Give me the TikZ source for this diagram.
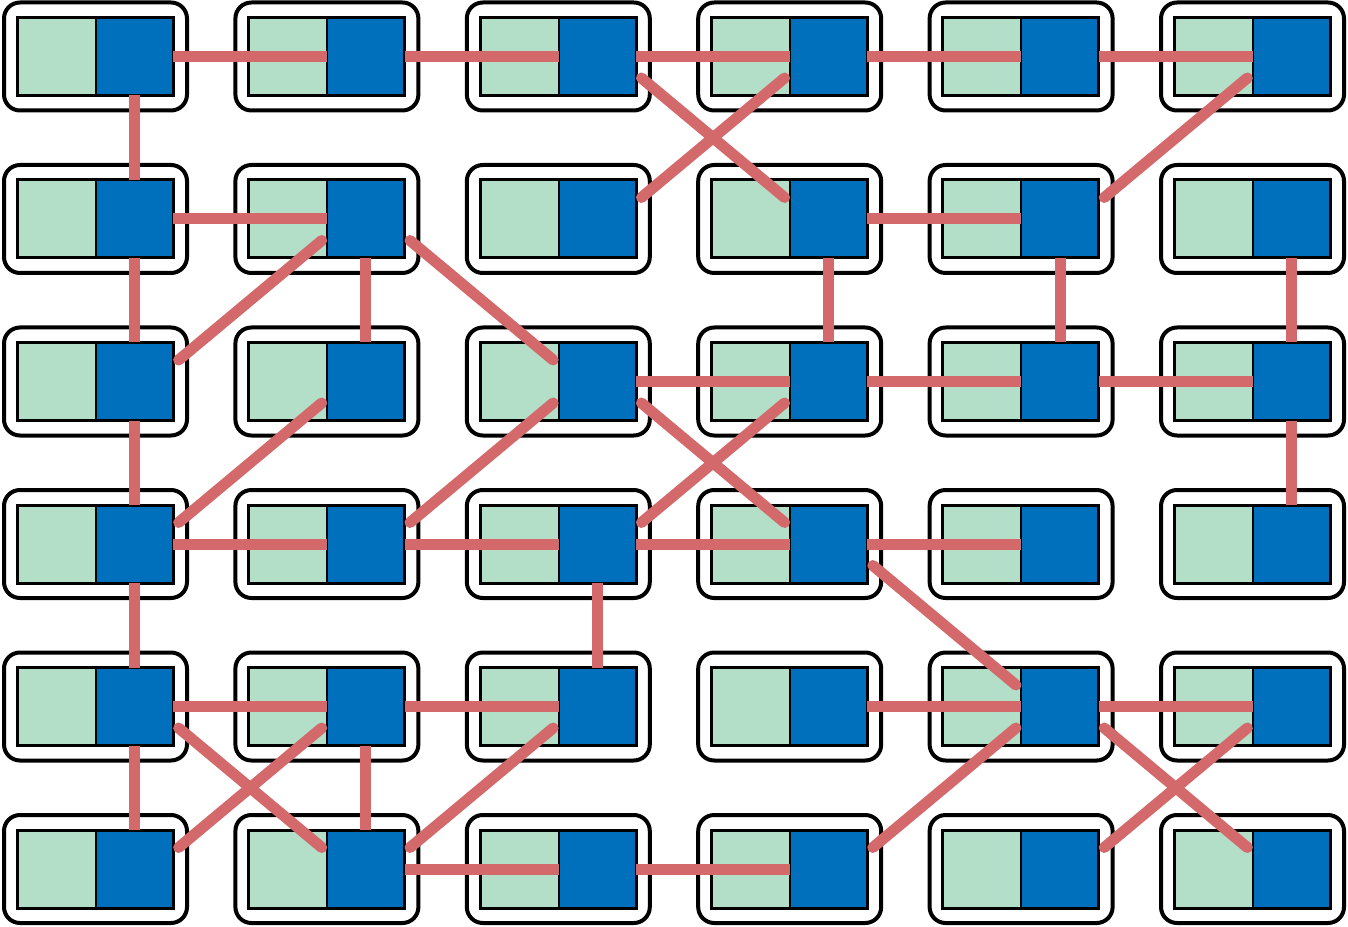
\documentclass[tikz,border=0pt]{standalone}
\usepackage{tikz, xcolor}
\usetikzlibrary{positioning}

\definecolor{mint}{HTML}{B3DFC8}
\definecolor{deepblue}{HTML}{0070BC}
\definecolor{linkred}{HTML}{D4696C}

\tikzset{
    cellbox/.style={draw, fill=white, line width=0.08cm, rounded corners=0.32cm, minimum width=3.66cm, minimum height=2.16cm, inner sep=0pt},
    lefthalf/.style={draw, fill=mint, line width=0.04cm, minimum width=1.57cm, minimum height=1.56cm, inner sep=0pt, outer sep=0pt},
    righthalf/.style={draw, fill=deepblue, line width=0.04cm, minimum width=1.55cm, minimum height=1.56cm, inner sep=0pt, outer sep=0pt},
    frame/.style={draw, line width=0.06cm},
    link/.style={draw=linkred, line width=0.22cm},
    cross/.style={link, line cap=round, shorten <=0.14cm, shorten >=0.14cm}
}

\begin{document}
\begin{tikzpicture}
    \useasboundingbox (0,0) rectangle (26.96,-18.54);
    \foreach \r in {0,...,5}
        \foreach \c in {0,...,5} {
            \node [cellbox] (o\r\c) at ({1.91+4.628*\c}, {-1.13-3.25*\r}) {};
            \node [lefthalf] (g\r\c) at ([xshift=-0.78cm]o\r\c.center) {};
            \node [righthalf, right=0pt of g\r\c] (b\r\c) {};
            \draw [frame] (g\r\c.north west) rectangle (b\r\c.south east);
        }
    \foreach \a/\b in {00/01, 01/02, 02/03, 03/04, 04/05, 10/11, 13/14, 22/23, 23/24, 24/25, 30/31, 31/32, 32/33, 33/34, 40/41, 41/42, 43/44, 44/45, 51/52, 52/53}
        \draw [link] (b\a.east) -- (b\b.west);
    \foreach \a/\b in {00/10, 10/20, 20/30, 30/40, 40/50, 11/21, 41/51, 32/42, 13/23, 14/24, 15/25, 25/35}
        \draw [link] (b\a.south) -- (b\b.north);
    \foreach \a/\b in {02/13, 11/22, 22/33, 33/44, 40/51, 44/55}
        \draw [cross] ([yshift=-0.34cm]b\a.east) -- ([yshift=0.34cm]b\b.west);
    \foreach \a/\b in {12/03, 14/05, 20/11, 30/21, 31/22, 32/23, 50/41, 51/42, 53/44, 54/45}
        \draw [cross] ([yshift=0.34cm]b\a.east) -- ([yshift=-0.34cm]b\b.west);
\end{tikzpicture}
\end{document}
